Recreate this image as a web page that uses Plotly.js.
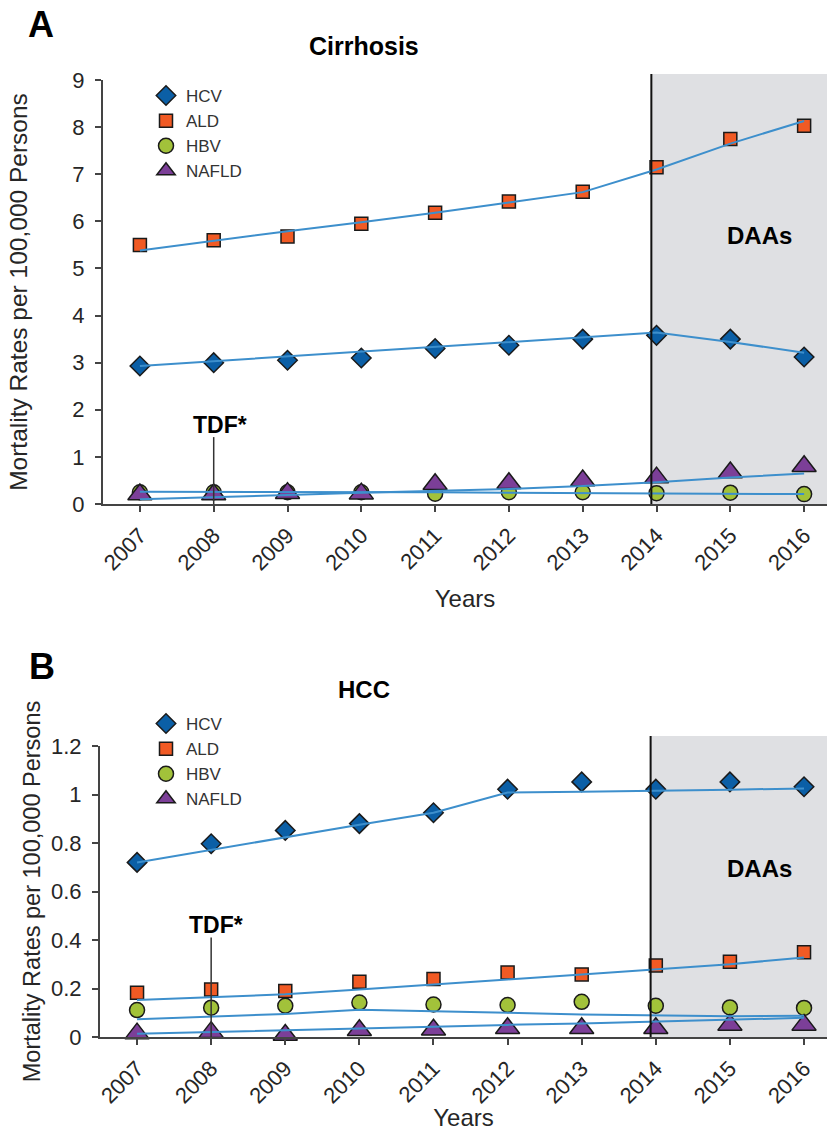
<!DOCTYPE html>
<html>
<head>
<meta charset="utf-8">
<script src="https://cdn.plot.ly/plotly-3.0.1.min.js"></script>
<style>
html,body{margin:0;padding:0;background:#fff;}
#chart{width:827px;height:1131px;}
</style>
</head>
<body>
<div id="chart"></div>
<script>
// ---- data ----
const years = [2007, 2008, 2009, 2010, 2011, 2012, 2013, 2014, 2015, 2016];
const yearLabels = ['2007','2008','2009','2010','2011','2012','2013','2014','2015','2016'];
const seriesNames = ['HCV', 'ALD', 'HBV', 'NAFLD'];

// Panel A: Cirrhosis (observed points and fitted trend lines)
const cirHCV = [2.93, 3.0, 3.05, 3.1, 3.3, 3.37, 3.5, 3.58, 3.5, 3.12];
const cirHCVfit = [2.93, 3.03, 3.13, 3.23, 3.33, 3.43, 3.53, 3.64, 3.44, 3.21];
const cirALD = [5.5, 5.6, 5.68, 5.95, 6.18, 6.42, 6.63, 7.15, 7.75, 8.03];
const cirALDfit = [5.38, 5.59, 5.79, 5.98, 6.18, 6.4, 6.62, 7.1, 7.65, 8.13];
const cirHBV = [0.25, 0.25, 0.25, 0.25, 0.22, 0.25, 0.25, 0.23, 0.24, 0.21];
const cirHBVfit = [0.26, 0.26, 0.25, 0.25, 0.25, 0.24, 0.23, 0.22, 0.22, 0.21];
const cirNAFLD = [0.2, 0.2, 0.23, 0.22, 0.42, 0.44, 0.5, 0.56, 0.67, 0.8];
const cirNAFLDfit = [0.1, 0.14, 0.19, 0.24, 0.28, 0.32, 0.38, 0.46, 0.56, 0.65];

// Panel B: HCC
const hccHCV = [0.72, 0.797, 0.852, 0.88, 0.925, 1.022, 1.052, 1.022, 1.052, 1.032];
const hccHCVfit = [0.72, 0.772, 0.826, 0.875, 0.925, 1.008, 1.011, 1.014, 1.02, 1.025];
const hccALD = [0.182, 0.196, 0.19, 0.228, 0.239, 0.266, 0.258, 0.295, 0.31, 0.349];
const hccALDfit = [0.153, 0.164, 0.176, 0.196, 0.215, 0.237, 0.258, 0.279, 0.3, 0.328];
const hccHBV = [0.111, 0.121, 0.129, 0.142, 0.134, 0.132, 0.145, 0.129, 0.122, 0.12];
const hccHBVfit = [0.073, 0.083, 0.095, 0.112, 0.107, 0.1, 0.093, 0.088, 0.086, 0.088];
const hccNAFLD = [0.014, 0.02, 0.008, 0.028, 0.03, 0.036, 0.036, 0.036, 0.05, 0.05];
const hccNAFLDfit = [0.013, 0.021, 0.029, 0.036, 0.043, 0.05, 0.056, 0.064, 0.072, 0.079];

// ---- styles ----
const markerStyles = {
  HCV:   {symbol: 'diamond',     color: '#0b5fa6', size: 15},
  ALD:   {symbol: 'square',      color: '#f15a24', size: 13},
  HBV:   {symbol: 'circle',      color: '#a2c23a', size: 15},
  NAFLD: {symbol: 'triangle-up', color: '#7c3f98', size: 21}
};
const lineColor = '#3d8fcc';
const FONT = 'Liberation Sans, Arial, Helvetica, sans-serif';

function pointTrace(name, y, xa, ya, legend) {
  const s = markerStyles[name];
  return {
    type: 'scatter', mode: 'markers', name: name, x: years, y: y,
    xaxis: xa, yaxis: ya, legend: legend, cliponaxis: false,
    marker: {symbol: s.symbol, color: s.color, size: s.size, line: {color: '#1a1a1a', width: 1.5}},
    hoverinfo: 'x+y+name'
  };
}
function fitTrace(name, y, xa, ya) {
  return {
    type: 'scatter', mode: 'lines', name: name + ' trend', x: years, y: y,
    xaxis: xa, yaxis: ya, showlegend: false, cliponaxis: false,
    line: {color: lineColor, width: 2}, hoverinfo: 'skip'
  };
}

const cirPts = {HCV: cirHCV, ALD: cirALD, HBV: cirHBV, NAFLD: cirNAFLD};
const cirFit = {HCV: cirHCVfit, ALD: cirALDfit, HBV: cirHBVfit, NAFLD: cirNAFLDfit};
const hccPts = {HCV: hccHCV, ALD: hccALD, HBV: hccHBV, NAFLD: hccNAFLD};
const hccFit = {HCV: hccHCVfit, ALD: hccALDfit, HBV: hccHBVfit, NAFLD: hccNAFLDfit};

const data = [];
seriesNames.forEach(n => data.push(pointTrace(n, cirPts[n], 'x', 'y', 'legend')));
seriesNames.forEach(n => data.push(fitTrace(n, cirFit[n], 'x', 'y')));
seriesNames.forEach(n => data.push(pointTrace(n, hccPts[n], 'x2', 'y2', 'legend2')));
seriesNames.forEach(n => data.push(fitTrace(n, hccFit[n], 'x2', 'y2')));

// ---- layout ----
const W = 827, H = 1131;
const px = v => v / W;            // horizontal pixel -> paper
const py = v => 1 - v / H;        // vertical pixel -> paper
const xRange = [2006.5, 2016.31];
const daaStart = 2013.93;

function xAxis(anchor, domL, standoff) {
  return {
    anchor: anchor, domain: [px(domL), 1], range: xRange, fixedrange: true,
    tickmode: 'array', tickvals: years, ticktext: yearLabels, tickangle: -45,
    ticks: 'outside', ticklen: 6, tickwidth: 1.5, tickcolor: '#444', ticklabelstandoff: 2,
    showline: true, linecolor: '#444', linewidth: 2,
    showgrid: false, zeroline: false,
    tickfont: {family: FONT, size: 22, color: '#262626'},
    title: {text: 'Years', font: {family: FONT, size: 24, color: '#262626'}, standoff: standoff}
  };
}
function yAxis(anchor, top, bottom, range, dtick, titleSize, standoff) {
  return {
    anchor: anchor, domain: [py(bottom), py(top)], range: range, dtick: dtick, fixedrange: true,
    ticks: 'outside', ticklen: 6, tickwidth: 1.5, tickcolor: '#444', ticklabelstandoff: 6,
    showline: true, linecolor: '#444', linewidth: 2,
    showgrid: false, zeroline: false,
    tickfont: {family: FONT, size: 22, color: '#262626'},
    title: {text: 'Mortality Rates per 100,000 Persons', font: {family: FONT, size: titleSize, color: '#262626'}, standoff: standoff}
  };
}

const layout = {
  width: W, height: H,
  margin: {l: 0, r: 0, t: 0, b: 0},
  paper_bgcolor: '#fff', plot_bgcolor: 'rgba(0,0,0,0)',
  font: {family: FONT, color: '#222'},
  showlegend: true,
  xaxis: xAxis('y', 103, 16),
  yaxis: yAxis('x', 80, 504, [0, 9], 1, 24.5, 38),
  xaxis2: xAxis('y2', 100, 14),
  yaxis2: yAxis('x2', 746, 1037, [0, 1.2], 0.2, 23.5, 4),
  legend: {x: px(146), y: py(78), xanchor: 'left', yanchor: 'top', bgcolor: 'rgba(0,0,0,0)',
           font: {family: FONT, size: 17, color: '#333'}, itemclick: false, itemdoubleclick: false},
  legend2: {x: px(146), y: py(706), xanchor: 'left', yanchor: 'top', bgcolor: 'rgba(0,0,0,0)',
           font: {family: FONT, size: 17, color: '#333'}, itemclick: false, itemdoubleclick: false},
  shapes: [
    // DAAs era shading and start line (panel A)
    {type: 'rect', xref: 'x', yref: 'y domain', x0: daaStart, x1: xRange[1], y0: 0, y1: 1.014,
     fillcolor: '#dfe0e3', line: {width: 0}, layer: 'below'},
    {type: 'line', xref: 'x', yref: 'y domain', x0: daaStart, x1: daaStart, y0: 0, y1: 1.014,
     line: {color: '#111', width: 2}, layer: 'above'},
    // TDF marker line (panel A)
    {type: 'line', xref: 'x', yref: 'y', x0: 2008, x1: 2008, y0: 0, y1: 1.42,
     line: {color: '#333', width: 1.5}, layer: 'above'},
    // panel B
    {type: 'rect', xref: 'x2', yref: 'y2 domain', x0: daaStart, x1: xRange[1], y0: 0, y1: 1.034,
     fillcolor: '#dfe0e3', line: {width: 0}, layer: 'below'},
    {type: 'line', xref: 'x2', yref: 'y2 domain', x0: daaStart, x1: daaStart, y0: 0, y1: 1.034,
     line: {color: '#111', width: 2}, layer: 'above'},
    {type: 'line', xref: 'x2', yref: 'y2', x0: 2008, x1: 2008, y0: 0, y1: 0.41,
     line: {color: '#333', width: 1.5}, layer: 'above'}
  ],
  annotations: [
    {text: 'A', xref: 'paper', yref: 'paper', x: px(41), y: py(25), xanchor: 'center', yanchor: 'middle', showarrow: false,
     font: {family: FONT, size: 36, weight: 'bold', color: '#000'}},
    {text: 'B', xref: 'paper', yref: 'paper', x: px(42), y: py(666), xanchor: 'center', yanchor: 'middle', showarrow: false,
     font: {family: FONT, size: 36, weight: 'bold', color: '#000'}},
    {text: 'Cirrhosis', xref: 'paper', yref: 'paper', x: px(364), y: py(46), xanchor: 'center', yanchor: 'middle', showarrow: false,
     font: {family: FONT, size: 25, weight: 'bold', color: '#000'}},
    {text: 'HCC', xref: 'paper', yref: 'paper', x: px(364), y: py(689), xanchor: 'center', yanchor: 'middle', showarrow: false,
     font: {family: FONT, size: 24, weight: 'bold', color: '#000'}},
    {text: 'DAAs', xref: 'x', yref: 'y', x: 2015.4, y: 5.69, xanchor: 'center', yanchor: 'middle', showarrow: false,
     font: {family: FONT, size: 24, weight: 'bold', color: '#000'}},
    {text: 'DAAs', xref: 'x2', yref: 'y2', x: 2015.4, y: 0.695, xanchor: 'center', yanchor: 'middle', showarrow: false,
     font: {family: FONT, size: 24, weight: 'bold', color: '#000'}},
    {text: 'TDF*', xref: 'x', yref: 'y', x: 2008.08, y: 1.68, xanchor: 'center', yanchor: 'middle', showarrow: false,
     font: {family: FONT, size: 23, weight: 'bold', color: '#000'}},
    {text: 'TDF*', xref: 'x2', yref: 'y2', x: 2008.06, y: 0.46, xanchor: 'center', yanchor: 'middle', showarrow: false,
     font: {family: FONT, size: 23, weight: 'bold', color: '#000'}}
  ]
};

Plotly.newPlot('chart', data, layout, {staticPlot: false, displayModeBar: false, responsive: false});
</script>
</body>
</html>
